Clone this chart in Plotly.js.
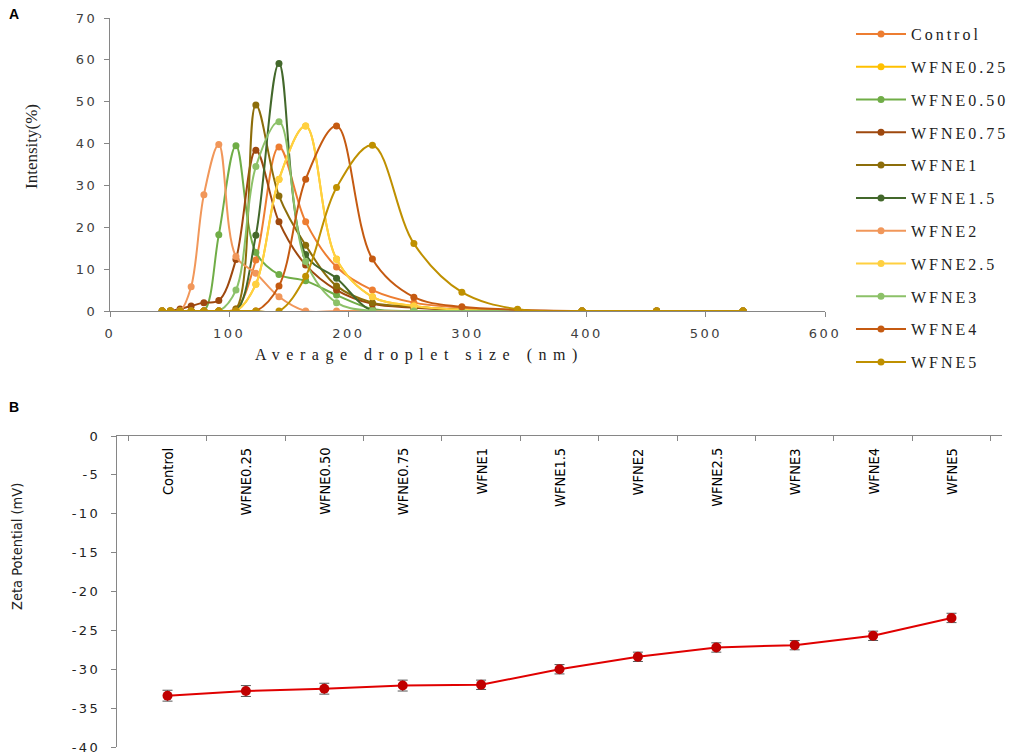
<!DOCTYPE html>
<html>
<head>
<meta charset="utf-8">
<script src="https://cdn.plot.ly/plotly-3.0.1.min.js"></script>
<style>
	body { margin: 0; background: #fff; }
	#chart { width: 1021px; height: 755px; }
</style>
</head>
<body>
<div id="chart"></div>
<script>
// droplet size bins (nm)
var sizes = [43.8, 50.7, 58.8, 68.1, 78.8, 91.3, 105.7, 122.4, 141.8, 164.2, 190.1, 220.2, 255.0, 295.3, 342.0, 396.1, 458.7, 531.2];

// intensity (%) per formulation
var names = ["Control", "WFNE0.25", "WFNE0.50", "WFNE0.75", "WFNE1", "WFNE1.5", "WFNE2", "WFNE2.5", "WFNE3", "WFNE4", "WFNE5"];
var control  = [0, 0, 0, 0, 0, 0, 0.5, 12.2, 39.2, 21.3, 10.5, 5.0, 2.0, 0.8, 0, 0, 0, 0];
var wfne025  = [0, 0, 0, 0, 0, 0, 0, 6.4, 31.5, 44.2, 12.4, 3.4, 1.2, 0.3, 0, 0, 0, 0];
var wfne050  = [0, 0, 0, 0, 0, 18.2, 39.5, 14.0, 8.7, 7.2, 3.8, 0.5, 0, 0, 0, 0, 0, 0];
var wfne075  = [0, 0, 0.5, 1.2, 2.0, 2.5, 12.3, 38.4, 21.3, 11.0, 5.0, 1.7, 0.8, 0.2, 0, 0, 0, 0];
var wfne1    = [0, 0, 0, 0, 0, 0, 0.5, 49.2, 27.5, 15.7, 6.0, 2.0, 1.0, 0.3, 0, 0, 0, 0];
var wfne15   = [0, 0, 0, 0, 0, 0, 0, 18.1, 59.1, 13.5, 7.8, 0, 0, 0, 0, 0, 0, 0];
var wfne2    = [0, 0, 0, 5.8, 27.8, 39.8, 13.0, 9.0, 3.4, 0, 0, 0, 0, 0, 0, 0, 0, 0];
var wfne25   = [0, 0, 0, 0, 0, 0, 0, 6.4, 31.4, 44.2, 12.3, 3.4, 1.2, 0.3, 0, 0, 0, 0];
var wfne3    = [0, 0, 0, 0, 0, 0, 5.0, 34.5, 45.2, 11.8, 2.0, 0, 0, 0, 0, 0, 0, 0];
var wfne4    = [0, 0, 0, 0, 0, 0, 0, 0, 6.0, 31.5, 44.2, 12.4, 3.3, 1.0, 0.3, 0, 0, 0];
var wfne5    = [0, 0, 0, 0, 0, 0, 0, 0, 0, 8.3, 29.5, 39.6, 16.1, 4.5, 0.4, 0, 0, 0];
var intensities = [control, wfne025, wfne050, wfne075, wfne1, wfne15, wfne2, wfne25, wfne3, wfne4, wfne5];
var colors = ["#ED7D31", "#FFC000", "#70AD47", "#9E480E", "#8C6D0A", "#43682B", "#F1975A", "#FFD040", "#8CC168", "#C55A11", "#BF9000"];

// zeta potential (mV) with error
var zeta = [-33.4, -32.8, -32.5, -32.1, -32.0, -30.0, -28.4, -27.2, -26.9, -25.7, -23.4];
var zetaErr = [0.7, 0.7, 0.7, 0.7, 0.6, 0.6, 0.6, 0.6, 0.6, 0.6, 0.6];

// tick values
var sizeTicks = [0, 100, 200, 300, 400, 500, 600];
var intensityTicks = [0, 10, 20, 30, 40, 50, 60, 70];
var zetaTicks = [0, -5, -10, -15, -20, -25, -30, -35, -40];

var W = 1021, H = 755;
function px(x){ return x / W; }
function py(y){ return 1 - y / H; }
function spaced(s, sp){ return '<span style="letter-spacing:' + sp + 'px">' + s + '</span>'; }

var data = [];
for (var i = 0; i < names.length; i++){
	data.push({
		x: sizes,
		y: intensities[i],
		name: spaced(names[i], 3),
		legendgroup: names[i],
		type: "scatter",
		mode: "lines+markers",
		line: { color: colors[i], width: 2, shape: "spline", smoothing: 1 },
		marker: { color: colors[i], size: 7 },
		xaxis: "x",
		yaxis: "y"
	});
}

data.push({
	x: names,
	y: zeta,
	type: "scatter",
	mode: "lines+markers",
	showlegend: false,
	line: { color: "#E00000", width: 2 },
	marker: { color: "#C00000", size: 10 },
	error_y: { type: "data", array: zetaErr, visible: true, color: "#555555", thickness: 1, width: 5 },
	xaxis: "x2",
	yaxis: "y2"
});

var serif = "Liberation Serif, Times New Roman";
var cond = "DejaVu Sans Condensed, Liberation Sans Narrow, Arial";

var annotations = [
	{ text: "<b>A</b>", xref: "paper", yref: "paper", x: px(7), y: py(4), xanchor: "left", yanchor: "top", showarrow: false, font: { family: "Liberation Sans, Arial", size: 14, color: "#000" } },
	{ text: "<b>B</b>", xref: "paper", yref: "paper", x: px(7), y: py(397), xanchor: "left", yanchor: "top", showarrow: false, font: { family: "Liberation Sans, Arial", size: 14, color: "#000" } },
	{ text: spaced("Average droplet size (nm)", 6.5), xref: "paper", yref: "paper", x: px(419), y: py(355), xanchor: "center", yanchor: "middle", showarrow: false, font: { family: serif, size: 16, color: "#222" } },
	{ text: "Intensity(%)", xref: "paper", yref: "paper", x: px(32), y: py(147), xanchor: "center", yanchor: "middle", textangle: -90, showarrow: false, font: { family: serif, size: 17, color: "#222" } },
	{ text: "Zeta Potential (mV)", xref: "paper", yref: "paper", x: px(17), y: py(547), xanchor: "center", yanchor: "middle", textangle: -90, showarrow: false, font: { family: cond, size: 14.5, color: "#222" } }
];
for (var k = 0; k < names.length; k++){
	annotations.push({
		text: names[k], xref: "x2", yref: "y2", x: names[k], y: 0,
		xanchor: "center", yanchor: "top", yshift: -10, textangle: -90, showarrow: false,
		font: { family: cond, size: 14.5, color: "#000" }
	});
}

var tickFont = { family: "DejaVu Sans, Verdana", size: 13, color: "#404040" };

var layout = {
	width: W,
	height: H,
	margin: { l: 0, r: 0, t: 0, b: 0 },
	paper_bgcolor: "#fff",
	plot_bgcolor: "#fff",
	showlegend: true,
	legend: {
		x: px(851), y: py(17), xanchor: "left", yanchor: "top",
		tracegroupgap: 9,
		itemwidth: 50,
		font: { family: serif, size: 16, color: "#222" },
		bgcolor: "rgba(0,0,0,0)"
	},
	xaxis: {
		domain: [px(110), px(825)],
		anchor: "y",
		range: [0, 600],
		tickmode: "array",
		tickvals: sizeTicks,
		ticktext: sizeTicks.map(function(v){ return spaced(String(v), 2.5); }),
		showgrid: false,
		zeroline: false,
		showline: true,
		linecolor: "#868686",
		ticks: "outside",
		ticklen: 5,
		tickcolor: "#868686",
		ticklabelstandoff: 5,
		tickfont: tickFont
	},
	yaxis: {
		domain: [py(311), py(18)],
		anchor: "x",
		range: [0, 70],
		tickmode: "array",
		tickvals: intensityTicks,
		ticktext: intensityTicks.map(function(v){ return spaced(String(v), 2.5); }),
		showgrid: false,
		zeroline: false,
		showline: true,
		linecolor: "#868686",
		ticks: "outside",
		ticklen: 5,
		tickcolor: "#868686",
		ticklabelstandoff: 4,
		tickfont: tickFont
	},
	xaxis2: {
		domain: [px(117), px(1002)],
		anchor: "y2",
		type: "category",
		side: "top",
		showgrid: false,
		zeroline: false,
		showline: true,
		linecolor: "#868686",
		ticks: "inside",
		tickson: "boundaries",
		ticklen: 5,
		tickcolor: "#868686",
		showticklabels: false
	},
	yaxis2: {
		domain: [py(747), py(436)],
		anchor: "x2",
		range: [-40, 0],
		tickmode: "array",
		tickvals: zetaTicks,
		ticktext: zetaTicks.map(function(v){ return spaced(String(v), 2.5); }),
		showgrid: false,
		zeroline: false,
		showline: true,
		linecolor: "#868686",
		ticks: "outside",
		ticklen: 5,
		tickcolor: "#868686",
		ticklabelstandoff: 8,
		tickfont: { family: "DejaVu Sans, Verdana", size: 13, color: "#222" }
	},
	annotations: annotations
};

Plotly.newPlot("chart", data, layout, { displayModeBar: false, staticPlot: true });
</script>
</body>
</html>
